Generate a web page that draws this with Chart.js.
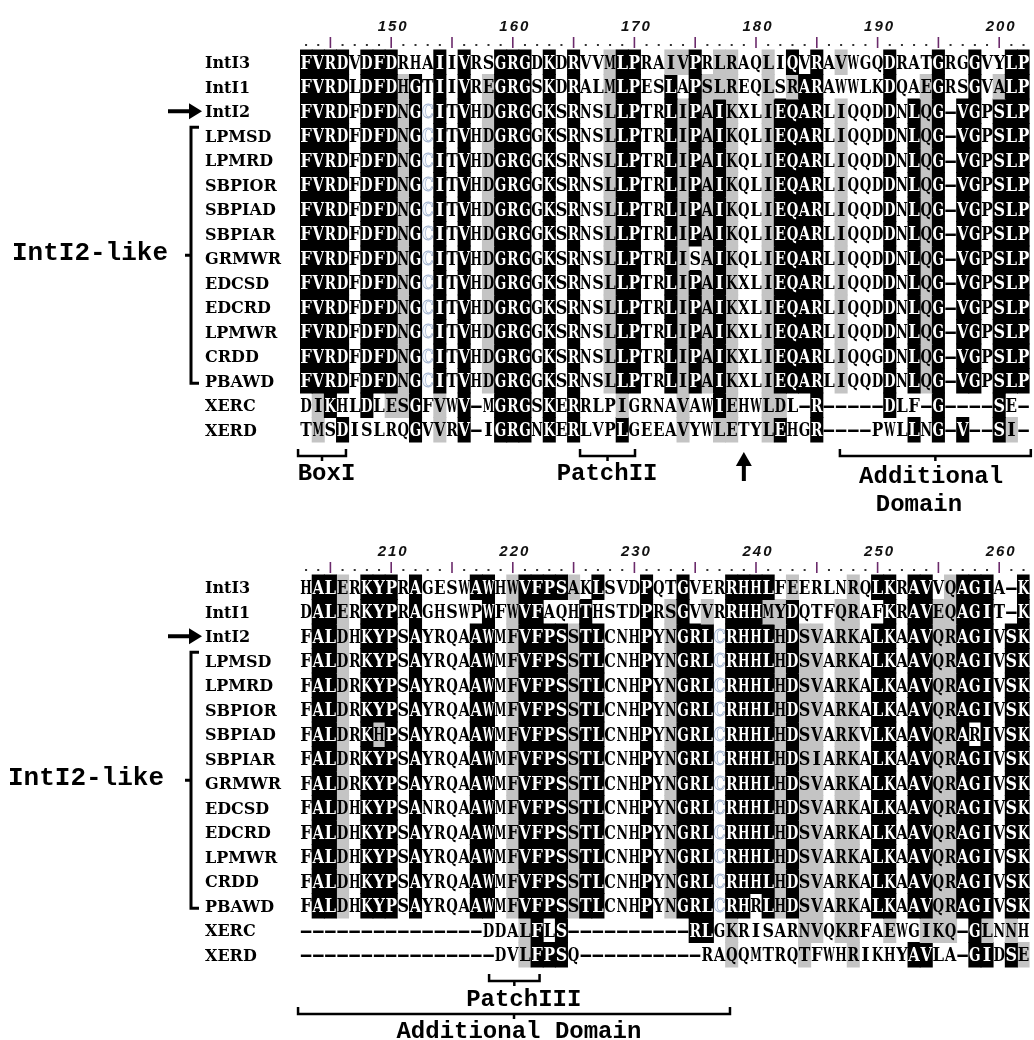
<!DOCTYPE html>
<html><head><meta charset="utf-8">
<script src="https://cdn.jsdelivr.net/npm/chart.js@4.4.1/dist/chart.umd.min.js"></script>
<style>html,body{margin:0;padding:0;background:#fff;}canvas{display:block;}</style>
</head><body>
<canvas id="c" width="1034" height="1040"></canvas>
<script>
// ---------------- data ----------------
const rowNames = ["IntI3","IntI1","IntI2","LPMSD","LPMRD","SBPIOR","SBPIAD","SBPIAR","GRMWR","EDCSD","EDCRD","LPMWR","CRDD","PBAWD","XERC","XERD"];
const topStart = 143;
const bottomStart = 203;
const topTickLabels = [150,160,170,180,190,200];
const bottomTickLabels = [210,220,230,240,250,260];

const topSeqs = [
"FVRDVDFDRHAIIVRSGRGDKDRVVMLPRAIVPRLRAQLIQVRAVWGQDRATGRGGVYLP",
"FVRDLDFDHGTIIVREGRGSKDRALMLPESLAPSLREQLSRARAWWLKDQAEGRSGVALP",
"FVRDFDFDNGCITVHDGRGGKSRNSLLPTRLIPAIKXLIEQARLIQQDDNLQG-VGPSLP",
"FVRDFDFDNGCITVHDGRGGKSRNSLLPTRLIPAIKQLIEQARLIQQDDNLQG-VGPSLP",
"FVRDFDFDNGCITVHDGRGGKSRNSLLPTRLIPAIKQLIEQARLIQQDDNLQG-VGPSLP",
"FVRDFDFDNGCITVHDGRGGKSRNSLLPTRLIPAIKQLIEQARLIQQDDNLQG-VGPSLP",
"FVRDFDFDNGCITVHDGRGGKSRNSLLPTRLIPAIKQLIEQARLIQQDDNLQG-VGPSLP",
"FVRDFDFDNGCITVHDGRGGKSRNSLLPTRLIPAIKQLIEQARLIQQDDNLQG-VGPSLP",
"FVRDFDFDNGCITVHDGRGGKSRNSLLPTRLISAIKQLIEQARLIQQDDNLQG-VGPSLP",
"FVRDFDFDNGCITVHDGRGGKSRNSLLPTRLIPAIKXLIEQARLIQQDDNLQG-VGPSLP",
"FVRDFDFDNGCITVHDGRGGKSRNSLLPTRLIPAIKXLIEQARLIQQDDNLQG-VGPSLP",
"FVRDFDFDNGCITVHDGRGGKSRNSLLPTRLIPAIKXLIEQARLIQQDDNLQG-VGPSLP",
"FVRDFDFDNGCITVHDGRGGKSRNSLLPTRLIPAIKXLIEQARLIQQGDNLQG-VGPSLP",
"FVRDFDFDNGCITVHDGRGGKSRNSLLPTRLIPAIKXLIEQARLIQQDDNLQG-VGPSLP",
"DIKHLDLESGFVWV-MGRGSKERRLPIGRNAVAWIEHWLDL-R-----DLF-G----SE-",
"TMSDISLRQGVVRV-IGRGNKERLVPLGEEAVYWLETYLEHGR----PWLLNG-V--SI-"
];
// B = black, G = grey, . = white, w = white cell with pale letter
const topShade = [
"BBBB.BBB.. .B.B..BBB. B.B..GBB.. GGB.GG..G. B.B.G...B. ..B..B..BB",
"BBBB.BBBGB .B.B.GBBB. B.B..GBB.. B.BGGG..G. GBB.....B. .GB..B.GBB",
"BBBB.BBBGB wB.B.GBBB. B.B..GBB.. BGBGBG..GB BBB.G...B. BGB.BB.BBB",
"BBBB.BBBGB wB.B.GBBB. B.B..GBB.. BGBGBG..GB BBB.G...B. BGB.BB.BBB",
"BBBB.BBBGB wB.B.GBBB. B.B..GBB.. BGBGBG..GB BBB.G...B. BGB.BB.BBB",
"BBBB.BBBGB wB.B.GBBB. B.B..GBB.. BGBGBG..GB BBB.G...B. BGB.BB.BBB",
"BBBB.BBBGB wB.B.GBBB. B.B..GBB.. BGBGBG..GB BBB.G...B. BGB.BB.BBB",
"BBBB.BBBGB wB.B.GBBB. B.B..GBB.. BGBGBG..GB BBB.G...B. BGB.BB.BBB",
"BBBB.BBBGB wB.B.GBBB. B.B..GBB.. BG.GBG..GB BBB.G...B. BGB.BB.BBB",
"BBBB.BBBGB wB.B.GBBB. B.B..GBB.. BGBGBG..GB BBB.G...B. BGB.BB.BBB",
"BBBB.BBBGB wB.B.GBBB. B.B..GBB.. BGBGBG..GB BBB.G...B. BGB.BB.BBB",
"BBBB.BBBGB wB.B.GBBB. B.B..GBB.. BGBGBG..GB BBB.G...B. BGB.BB.BBB",
"BBBB.BBBGB wB.B.GBBB. B.B..GBB.. BGBGBG..GB BBB.G...B. BGB.BB.BBB",
"BBBB.BBBGB wB.B.GBBB. B.B..GBB.. BGBGBG..GB BBB.G...B. BGB.BB.BBB",
".GB..B.GGB .G.B..BBB. B.B...G... .G..BG..GG ..B.....B. ..B....B..",
".G.B.....B .G.B..BBB. B.B...B... .G..GG..GB ..B....... B.B.B..BG."
];

const bottomSeqs = [
"HALERKYPRAGESWAWHWVFPSAKLSVDPQTGVERRHHLFEERLNRQLKRAVVQAGIA-K",
"DALERKYPRAGHSWPWFWVFAQHTHSTDPRSGVVRRHHMYDQTFQRAFKRAVEQAGIT-K",
"FALDHKYPSAYRQAAWMFVFPSSTLCNHPYNGRLCRHHLHDSVARKALKAAVQRAGIVSK",
"FALDRKYPSAYRQAAWMFVFPSSTLCNHPYNGRLCRHHLHDSVARKALKAAVQRAGIVSK",
"FALDRKYPSAYRQAAWMFVFPSSTLCNHPYNGRLCRHHLHDSVARKALKAAVQRAGIVSK",
"FALDRKYPSAYRQAAWMFVFPSSTLCNHPYNGRLCRHHLHDSVARKALKAAVQRAGIVSK",
"FALDRKHPSAYRQAAWMFVFPSSTLCNHPYNGRLCRHHLHDSVARKVLKAAVQRARIVSK",
"FALDRKYPSAYRQAAWMFVFPSSTLCNHPYNGRLCRHHLHDSIARKALKAAVQRAGIVSK",
"FALDRKYPSAYRQAAWMFVFPSSTLCNHPYNGRLCRHHLHDSVARKALKAAVQRAGIVSK",
"FALDHKYPSANRQAAWMFVFPSSTLCNHPYNGRLCRHHLHDSVARKALKAAVQRAGIVSK",
"FALDHKYPSAYRQAAWMFVFPSSTLCNHPYNGRLCRHHLHDSVARKALKAAVQRAGIVSK",
"FALDHKYPSAYRQAAWMFVFPSSTLCNHPYNGRLCRHHLHDSVARKALKAAVQRAGIVSK",
"FALDHKYPSAYRQAAWMFVFPSSTLCNHPYNGRLCRHHLHDSVARKALKAAVQRAGIVSK",
"FALDHKYPSAYRQAAWMFVFPSSTLCNHPYNGRLCRHRLHDSVARKALKAAVQRAGIVSK",
"---------------DDALFLS----------RLGKRISARNVQKRFAEWGIKQ-GLNNH",
"----------------DVLFPSQ----------RAQQMTRQTFWHRIKHYAVLA-GIDSE"
];
const bottomShade = [
".BBG.BBB.B ....BB.GBB BBG.B...B. .B...BBBB. G....G.BB. BB.GBBB..B",
".BBG.BBB.B .....B.GBB ...B....B. GB.G.BBBGG B...GG..B. BBGGBBB..B",
".BBG.BBB.B ....BB.GBB BBGBB...B. GBBBwBBBBG BGG.GG.BB. BBGGBBB.BB",
".BBG.BBB.B ....BB.GBB BBGBB...B. GBBBwBBBBG BGG.GG.BB. BBGGBBB.BB",
".BBG.BBB.B ....BB.GBB BBGBB...B. GBBBwBBBBG BGG.GG.BB. BBGGBBB.BB",
".BBG.BBB.B ....BB.GBB BBGBB...B. GBBBwBBBBG BGG.GG.BB. BBGGBBB.BB",
".BBG.BGB.B ....BB.GBB BBGBB...B. GBBBwBBBBG BGG.GG.BB. BBGGB.B.BB",
".BBG.BBB.B ....BB.GBB BBGBB...B. GBBBwBBBBG BGG.GG.BB. BBGGBBB.BB",
".BBG.BBB.B ....BB.GBB BBGBB...B. GBBBwBBBBG BGG.GG.BB. BBGGBBB.BB",
".BBG.BBB.B ....BB.GBB BBGBB...B. GBBBwBBBBG BGG.GG.BB. BBGGBBB.BB",
".BBG.BBB.B ....BB.GBB BBGBB...B. GBBBwBBBBG BGG.GG.BB. BBGGBBB.BB",
".BBG.BBB.B ....BB.GBB BBGBB...B. GBBBwBBBBG BGG.GG.BB. BBGGBBB.BB",
".BBG.BBB.B ....BB.GBB BBGBB...B. GBBBwBBBBG BGG.GG.BB. BBGGBBB.BB",
".BBG.BBB.B ....BB.GBB BBGBB...B. GBBBwBB.BG BGG.GG.BB. BBGGBBB.BB",
".......... ........GB .B........ ..BB.G.... .GG.GG..G. .GGG.BG.G.",
".......... ........GB BB........ .....G.... .G...G.... BB...BB.BG"
];

// ---------------- layout constants ----------------
const COLS = 60;
const ROW_PX = 24.5;
const Y_MIN = -50 / ROW_PX, Y_MAX = 990 / ROW_PX;
const BOTTOM_OFF = 525 / ROW_PX;
const blocks = [
  {start: topStart, seqs: topSeqs, shade: topShade.map(s => s.replace(/ /g,'')), off: 0, labels: topTickLabels},
  {start: bottomStart, seqs: bottomSeqs, shade: bottomShade.map(s => s.replace(/ /g,'')), off: BOTTOM_OFF, labels: bottomTickLabels}
];

const datasets = [];
blocks.forEach(bl => bl.shade.forEach((s, r) => {
  [['B','#000000'],['G','#c4c4c4']].forEach(([k, col]) => {
    datasets.push({
      data: Array.from({length: COLS}, (_, c) => s[c] === k ? [bl.off + r, bl.off + r + 1] : null),
      backgroundColor: col, borderWidth: 0, grouped: false,
      barPercentage: 1, categoryPercentage: 1, inflateAmount: 0.45
    });
  });
}));

// ---------------- overlay drawing (text & annotations) ----------------
function arrowRight(ctx, x0, x1, y) {
  ctx.beginPath(); ctx.lineWidth = 4; ctx.moveTo(x0, y); ctx.lineTo(x1 - 10, y); ctx.stroke();
  ctx.beginPath(); ctx.moveTo(x1, y); ctx.lineTo(x1 - 13, y - 8); ctx.lineTo(x1 - 13, y + 8); ctx.closePath(); ctx.fill();
}
function arrowUp(ctx, x, y0, y1) {
  ctx.beginPath(); ctx.lineWidth = 4; ctx.moveTo(x, y1); ctx.lineTo(x, y0 + 10); ctx.stroke();
  ctx.beginPath(); ctx.moveTo(x, y0); ctx.lineTo(x - 8, y0 + 14); ctx.lineTo(x + 8, y0 + 14); ctx.closePath(); ctx.fill();
}
function hBracket(ctx, xa, xb, y, up, mid) {
  ctx.beginPath(); ctx.lineWidth = 2.5;
  ctx.moveTo(xa, y - up); ctx.lineTo(xa, y); ctx.lineTo(xb, y); ctx.lineTo(xb, y - up);
  const xm = (xa + xb) / 2; ctx.moveTo(xm, y); ctx.lineTo(xm, y + mid);
  ctx.stroke();
}

const overlay = {
  id: 'overlay',
  afterDatasetsDraw(chart) {
    const {ctx} = chart; const x = chart.scales.x, y = chart.scales.y;
    const colW = x.getPixelForValue(1) - x.getPixelForValue(0);
    const colX = u => x.getPixelForValue(0) + u * colW;
    ctx.save();
    blocks.forEach((bl, bi) => {
      const top = y.getPixelForValue(bl.off);
      const bot = y.getPixelForValue(bl.off + 16);
      // residues
      ctx.textAlign = 'center'; ctx.textBaseline = 'alphabetic';
      ctx.font = 'bold 18px "DejaVu Serif"';
      bl.seqs.forEach((seq, r) => {
        const yc = y.getPixelForValue(bl.off + r + 0.5);
        for (let c = 0; c < COLS; c++) {
          const ch = seq[c], sh = bl.shade[r][c];
          const xc = x.getPixelForValue(c);
          if (ch === '-') {
            ctx.fillStyle = '#000';
            ctx.save(); ctx.translate(xc, yc + 6.5); ctx.scale(1.9, 1); ctx.fillText('-', 0, 0); ctx.restore();
            continue;
          }
          if (sh === 'w') {
            ctx.fillStyle = '#f2f6fc'; ctx.strokeStyle = '#9fb0cc'; ctx.lineWidth = 0.8;
            ctx.fillText(ch, xc, yc + 6.5, colW * 0.95);
            ctx.strokeText(ch, xc, yc + 6.5, colW * 0.95);
            continue;
          }
          ctx.fillStyle = sh === 'B' ? '#ffffff' : '#000000';
          ctx.fillText(ch, xc, yc + 6.5, colW * 0.95);
        }
      });
      // ruler
      for (let c = 0; c < COLS; c++) {
        const pos = bl.start + c, xc = x.getPixelForValue(c);
        if (pos % 5 === 0) {
          ctx.strokeStyle = '#6b2a6b'; ctx.lineWidth = 1.6;
          ctx.beginPath(); ctx.moveTo(xc, top - 13); ctx.lineTo(xc, top - 2); ctx.stroke();
        } else {
          ctx.fillStyle = '#333'; ctx.fillRect(xc - 1, top - 6, 2, 2);
        }
      }
      ctx.fillStyle = '#111'; ctx.font = 'italic bold 15px "Liberation Sans"'; ctx.textAlign = 'center';
      ctx.letterSpacing = '2px';
      bl.labels.forEach(v => { ctx.fillText(String(v), x.getPixelForValue(v - bl.start) + 2, top - 19); });
      ctx.letterSpacing = '0px';
      // sequence names
      ctx.textAlign = 'left'; ctx.font = 'bold 16px "DejaVu Serif"'; ctx.fillStyle = '#000';
      rowNames.forEach((n, r) => ctx.fillText(n, 205, y.getPixelForValue(bl.off + r + 0.5) + 6));
      // group bracket and label
      ctx.strokeStyle = '#000'; ctx.fillStyle = '#000'; ctx.lineWidth = 3;
      const ya = y.getPixelForValue(bl.off + 3.15), yb = y.getPixelForValue(bl.off + 13.6);
      const ym = (ya + yb) / 2;
      ctx.beginPath(); ctx.moveTo(199, ya); ctx.lineTo(191, ya); ctx.lineTo(191, yb); ctx.lineTo(199, yb);
      ctx.moveTo(191, ym); ctx.lineTo(185, ym); ctx.stroke();
      ctx.font = 'bold 26px "Liberation Mono"'; ctx.textAlign = 'left';
      ctx.fillText('IntI2-like', bi === 0 ? 12 : 8, ym + 5);
      // arrow to IntI2
      arrowRight(ctx, 168, 202, y.getPixelForValue(bl.off + 2.5));
      // annotations
      ctx.font = 'bold 24px "Liberation Mono"'; ctx.textAlign = 'center';
      if (bi === 0) {
        hBracket(ctx, colX(-0.66), colX(3.28), bot + 14, 7, 5);
        ctx.fillText('BoxI', colX(1.68), bot + 38);
        hBracket(ctx, colX(22.53), colX(27.05), bot + 14, 7, 5);
        ctx.fillText('PatchII', colX(24.75), bot + 38);
        arrowUp(ctx, colX(36), bot + 10, bot + 39);
        hBracket(ctx, colX(43.9), colX(59.6), bot + 14, 7, 5);
        ctx.fillText('Additional', colX(51.4), bot + 41);
        ctx.fillText('Domain', colX(50.4), bot + 69);
      } else {
        hBracket(ctx, colX(15.05), colX(19.2), bot + 14, 7, 5);
        ctx.fillText('PatchIII', colX(17.9), bot + 39);
        hBracket(ctx, colX(-0.66), colX(34.86), bot + 47, 7, 5);
        ctx.fillText('Additional Domain', colX(17.5), bot + 71);
      }
    });
    ctx.restore();
  }
};

new Chart(document.getElementById('c').getContext('2d'), {
  type: 'bar',
  data: {labels: Array.from({length: COLS}, (_, i) => String(i)), datasets},
  options: {
    responsive: false, animation: false, events: [],
    layout: {padding: {left: 300, right: 4.4, top: 0, bottom: 0}},
    plugins: {legend: {display: false}, tooltip: {enabled: false}},
    scales: {
      x: {type: 'category', display: false, offset: true, grid: {display: false}},
      y: {type: 'linear', display: false, reverse: true, min: Y_MIN, max: Y_MAX}
    }
  },
  plugins: [overlay]
});
</script>
</body></html>
